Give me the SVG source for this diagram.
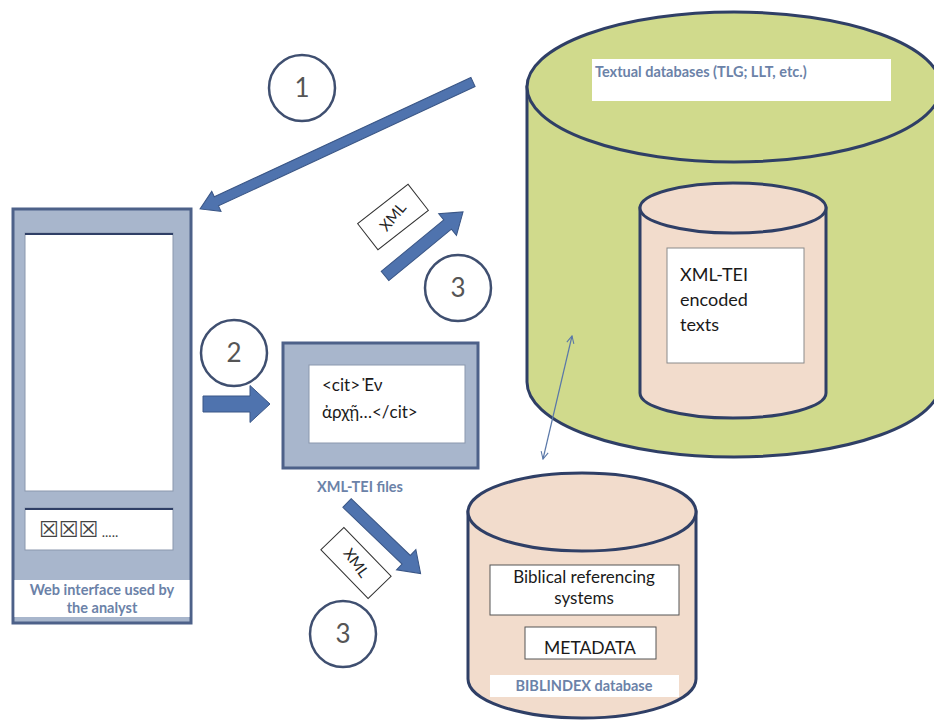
<svg xmlns="http://www.w3.org/2000/svg" width="934" height="722" viewBox="0 0 934 722">
<defs>
<style>
.cyl{stroke:#2f3f66;stroke-width:3}
.green{fill:#d0da8c}
.peach{fill:#f2dccc}
.panel{fill:#a8b6cc;stroke:#4d6189;stroke-width:3}
.wbox{fill:#ffffff;stroke:#8a97ad;stroke-width:1}
.arrow{fill:#4f73ae;stroke:#3a5686;stroke-width:1}
.circ{fill:#ffffff;stroke:#3f4f70;stroke-width:2.5}
.num{font-family:Lato,"Open Sans","Liberation Sans",sans-serif;font-size:26px;fill:#555555;text-anchor:middle}
.lbl{font-family:Lato,"Open Sans","Liberation Sans",sans-serif;font-weight:bold;fill:#6b82a8}
.body{font-family:Lato,"Noto Sans","DejaVu Sans",sans-serif;fill:#1a1a1a}
.tag{fill:#ffffff;stroke:#333333;stroke-width:1}
.tagt{font-family:Lato,"Liberation Sans",sans-serif;font-size:15px;fill:#222222;text-anchor:middle}
</style>
<marker id="open" viewBox="0 0 10 10" refX="9" refY="5" markerWidth="9" markerHeight="9" markerUnits="userSpaceOnUse" orient="auto-start-reverse">
<path d="M1,1 L9,5 L1,9" fill="none" stroke="#5a78a8" stroke-width="1.2"/>
</marker>
</defs>
<rect width="934" height="722" fill="#ffffff"/>

<g id="textual-db">
<path class="cyl green" d="M527,87 L527,382 A207,75 0 0 0 941,382 L941,87 Z"/>
<ellipse class="cyl green" cx="734" cy="87" rx="207" ry="75"/>
<rect x="592" y="59" width="299" height="42" fill="#ffffff"/>
<text class="lbl" x="595" y="77" font-size="14.5">Textual databases (TLG; LLT, etc.)</text>
</g>

<g id="xml-tei-texts">
<path class="cyl peach" d="M640,208 L640,393 A93,25 0 0 0 826,393 L826,208 Z"/>
<ellipse class="cyl peach" cx="733" cy="208" rx="93" ry="25"/>
<rect x="667" y="248" width="137" height="115" fill="#ffffff" stroke="#8a8a8a" stroke-width="1"/>
<text class="body" font-size="18"><tspan x="680" y="281">XML-TEI</tspan><tspan x="680" y="306">encoded</tspan><tspan x="680" y="331">texts</tspan></text>
</g>

<g id="biblindex-db">
<path class="cyl peach" d="M468,512 L468,679 A114,39 0 0 0 696,679 L696,512 Z"/>
<ellipse class="cyl peach" cx="582" cy="512" rx="114" ry="39"/>
<rect x="490" y="565" width="189" height="50" fill="#ffffff" stroke="#555555" stroke-width="1"/>
<text class="body" font-size="17" text-anchor="middle"><tspan x="584" y="583">Biblical referencing</tspan><tspan x="584" y="604">systems</tspan></text>
<rect x="525" y="627" width="131" height="32" fill="#ffffff" stroke="#555555" stroke-width="1"/>
<text class="body" font-size="17.5" text-anchor="middle" x="590" y="654">METADATA</text>
<rect x="490" y="675" width="189" height="22" fill="#ffffff"/>
<text class="lbl" x="584" y="691" font-size="14.5" text-anchor="middle">BIBLINDEX database</text>
</g>

<g id="web-interface">
<rect class="panel" x="13" y="209" width="178" height="414"/>
<rect class="wbox" x="25" y="233" width="148" height="258"/>
<line x1="25" y1="234" x2="173" y2="234" stroke="#2f3f66" stroke-width="2"/>
<rect class="wbox" x="25" y="508" width="148" height="42"/>
<line x1="25" y1="509" x2="173" y2="509" stroke="#2f3f66" stroke-width="2"/>
<text x="39" y="537" font-family="'DejaVu Sans',sans-serif" font-size="22" fill="#444444">☒☒☒<tspan font-family="Lato,sans-serif" font-size="14"> .....</tspan></text>
<rect x="14.5" y="580" width="175" height="37" fill="#ffffff"/>
<text class="lbl" font-size="14.5" text-anchor="middle"><tspan x="102" y="595">Web interface used by</tspan><tspan x="102" y="613">the analyst</tspan></text>
</g>

<g id="xml-tei-files">
<rect class="panel" x="283" y="343" width="195" height="125" stroke-width="2.5"/>
<rect x="309" y="365" width="156" height="78" fill="#ffffff" stroke="#8a97ad" stroke-width="1"/>
<text class="body" font-size="17"><tspan x="322" y="391">&lt;cit&gt; Ἐν</tspan><tspan x="322" y="418">ἀρχῇ…&lt;/cit&gt;</tspan></text>
<text class="lbl" x="360" y="492" font-size="14.5" text-anchor="middle">XML-TEI files</text>
</g>

<g id="connectors">
<path class="arrow" transform="translate(473,82) rotate(155.06)" d="M0,-5 L283,-5 L283,-11 L301,0 L283,11 L283,5 L0,5 Z"/>
<path class="arrow" transform="translate(203,404)" d="M0,-8 L47,-8 L47,-18.5 L67,0 L47,18.5 L47,8 L0,8 Z"/>
<path class="arrow" transform="translate(385,276) rotate(-39.4)" d="M0,-6 L81,-6 L81,-14 L101,0 L81,14 L81,6 L0,6 Z"/>
<path class="arrow" transform="translate(347,503) rotate(43.8)" d="M0,-6 L82,-6 L82,-14 L102,0 L82,14 L82,6 L0,6 Z"/>
<line x1="543" y1="459" x2="572" y2="336" stroke="#5a78a8" stroke-width="1.2" marker-start="url(#open)" marker-end="url(#open)"/>
</g>

<g id="xml-tag-upper" transform="translate(393,217) rotate(-38)">
<rect class="tag" x="-32" y="-16.5" width="64" height="33"/>
<text class="tagt" x="0" y="5" transform="rotate(-12)">XML</text>
</g>
<g id="xml-tag-lower" transform="translate(356,563) rotate(46)">
<rect class="tag" x="-34" y="-16" width="68" height="32"/>
<text class="tagt" x="0" y="5" transform="rotate(8)">XML</text>
</g>

<g id="step-1"><circle class="circ" cx="302" cy="88" r="33"/><text class="num" x="302" y="97">1</text></g>
<g id="step-2"><circle class="circ" cx="234" cy="353" r="33"/><text class="num" x="234" y="362">2</text></g>
<g id="step-3a"><circle class="circ" cx="458" cy="288" r="33"/><text class="num" x="458" y="297">3</text></g>
<g id="step-3b"><circle class="circ" cx="343" cy="634" r="33"/><text class="num" x="343" y="643">3</text></g>
</svg>
